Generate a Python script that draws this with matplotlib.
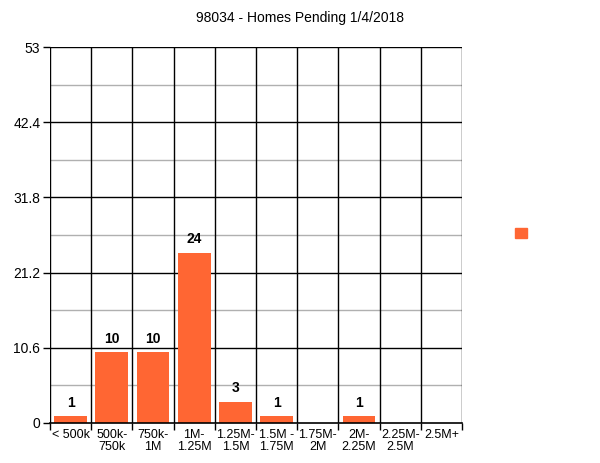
import matplotlib.pyplot as plt
from matplotlib.patches import Patch
import numpy as np

categories = ["< 500k", "500k-\n750k", "750k-\n1M", "1M-\n1.25M", "1.25M-\n1.5M",
              "1.5M -\n1.75M", "1.75M-\n2M", "2M-\n2.25M", "2.25M-\n2.5M", "2.5M+"]
values = [1, 10, 10, 24, 3, 1, 0, 1, 0, 0]
yticks = [0, 10.6, 21.2, 31.8, 42.4, 53]
ytick_labels = ["0", "10.6", "21.2", "31.8", "42.4", "53"]
color = "#FF6633"

plt.rcParams['font.family'] = ['Liberation Sans', 'DejaVu Sans']

fig = plt.figure(figsize=(6, 4.63), dpi=100)
ax = fig.add_axes([50/600, 1-423/463, 412/600, 376/463])

x = np.arange(len(categories))
ax.bar(x, values, width=0.8, color=color, zorder=3)
for xi, v in zip(x, values):
    if v > 0:
        ax.text(xi, v + 0.9, str(v), ha='center', va='bottom', fontsize=10, fontweight='bold')

ax.set_xlim(-0.5, len(categories) - 0.5)
ax.set_ylim(0, 53)

# grid lines
for y in yticks[1:]:
    ax.axhline(y, color='black', lw=1, zorder=1)
for i in range(len(yticks) - 1):
    ax.axhline((yticks[i] + yticks[i+1]) / 2, color='#b0b0b0', lw=1, zorder=1)
for b in np.arange(-0.5, len(categories), 1.0):
    ax.axvline(b, color='black', lw=1, zorder=1)

ax.set_yticks(yticks)
ax.set_yticklabels(ytick_labels, fontsize=10)
ax.set_xticks(np.arange(-0.5, len(categories), 1.0))
ax.set_xticklabels([])
ax.set_xticks(x, minor=True)
ax.set_xticklabels(categories, minor=True, fontsize=9, linespacing=1.0)
ax.tick_params(axis='x', which='minor', length=0, pad=4)
ax.tick_params(axis='x', which='major', length=5, width=1)
ax.tick_params(axis='y', length=5, width=1, pad=2)

for s in ax.spines.values():
    s.set_visible(False)
ax.spines['bottom'].set_visible(True)
ax.spines['bottom'].set_linewidth(1.2)
ax.spines['bottom'].set_zorder(4)

fig.suptitle("98034 - Homes Pending 1/4/2018", y=1-18/463, va='center', fontsize=10)

fig.legend(handles=[Patch(color=color)], labels=[''], loc='center',
           bbox_to_anchor=(521/600, 1-234/463), frameon=False,
           handlelength=0.8, handleheight=0.8, handletextpad=0)

fig.savefig("out.png", dpi=100)
